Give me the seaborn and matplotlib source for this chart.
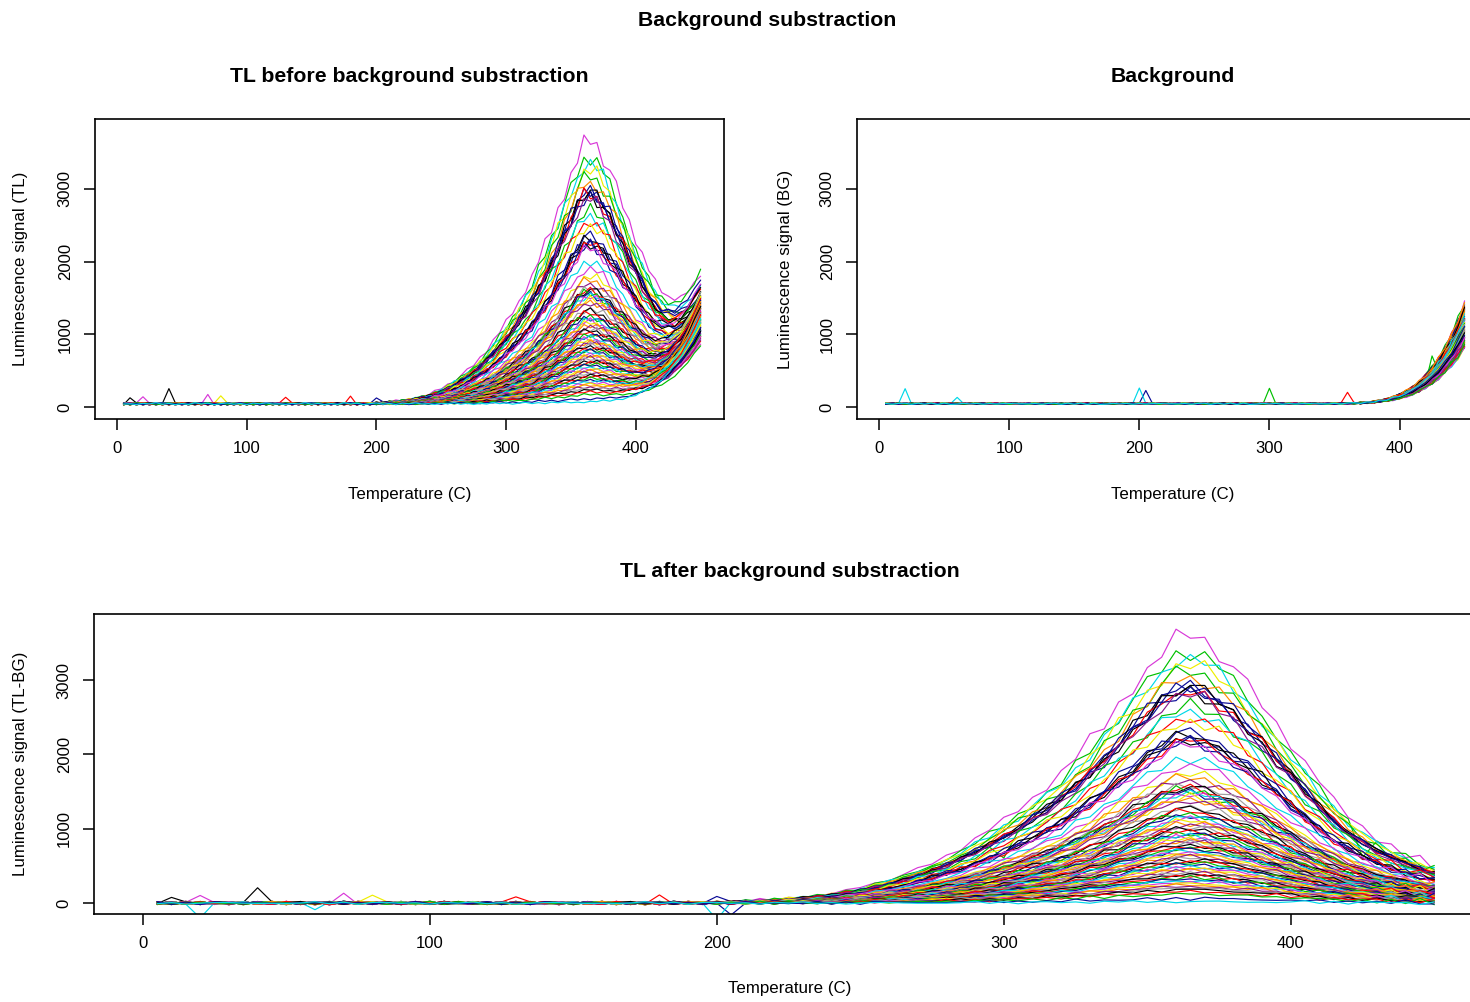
import numpy as np
import pandas as pd
import matplotlib
matplotlib.use("Agg")
import matplotlib.pyplot as plt
import seaborn as sns

# ---------------- data ----------------
temps = list(range(5, 455, 5))  # temperature grid (C)

# normalised TL glow peak (T = 5 ... 450 C, step 5)
peak_shape = [
    0.0, 0.0, 0.0, 0.0, 0.0, 0.0, 0.0, 0.0, 0.0, 0.0,
    0.0, 0.0, 0.0, 0.0, 0.0, 0.0, 0.0, 0.0, 0.0, 0.0,
    0.0, 0.0, 0.0, 0.0, 0.0, 0.0, 0.0, 0.0, 0.0, 0.0,
    0.0, 0.0, 0.0, 0.0, 0.0, 0.0, 0.0, 0.0, 0.0,
    0.003, 0.005, 0.007, 0.010, 0.013, 0.017, 0.022, 0.028, 0.036, 0.046,
    0.058, 0.072, 0.088, 0.106, 0.127, 0.150, 0.176, 0.205, 0.237, 0.272,
    0.310, 0.350, 0.393, 0.438,
    0.485, 0.545, 0.605, 0.670, 0.740, 0.810, 0.875, 0.940, 0.990, 1.000,
    0.975, 0.935, 0.880, 0.815, 0.745, 0.670, 0.595, 0.520, 0.450, 0.385,
    0.330, 0.283, 0.243, 0.210, 0.182, 0.158, 0.138,
]

# background rise above the dark level (counts, T = 5 ... 450 C)
bg_rise = [
    0, 0, 0, 0, 0, 0, 0, 0, 0, 0,
    0, 0, 0, 0, 0, 0, 0, 0, 0, 0,
    0, 0, 0, 0, 0, 0, 0, 0, 0, 0,
    0, 0, 0, 0, 0, 0, 0, 0, 0, 0,
    0, 0, 0, 0, 0, 0, 0, 0, 0, 0,
    0, 0, 0, 0, 0, 0, 0, 0, 0, 0,
    0, 0, 0, 0, 0, 0, 0, 0, 0,
    2, 3, 5, 8, 12, 18, 27, 40, 57, 80,
    110, 148, 195, 255, 330, 420, 525, 650, 800, 970, 1160,
]

baseline_counts = 45

# peak height of each aliquot (TL-BG, counts)
peak_amplitudes = [
    3600, 3380, 3300, 3230, 3130, 3050,
    2950, 2920, 2900, 2880, 2860, 2840, 2800,
    2650, 2580, 2500, 2450,
    2300, 2260, 2230, 2200, 2180, 2150, 2120,
    1950, 1850, 1750, 1700, 1650,
    1600, 1560, 1540, 1520, 1500, 1480, 1450, 1420, 1400, 1380,
    1300, 1270, 1240, 1200, 1180, 1150, 1120, 1100, 1080, 1050, 1020, 1000,
    980, 950, 930, 900, 880, 860, 840, 820, 800, 780, 760, 740,
    720, 700, 680, 660, 640, 620, 600, 580, 560, 540, 520, 500,
    480, 460, 440, 420, 400, 380, 360, 340, 320, 300,
    280, 260, 240, 220, 200, 180, 150, 120, 60, 20,
]

# relative size of each aliquot's background rise
bg_scales = [
    1.10, 0.85, 1.00, 0.70, 1.20, 0.90, 0.95, 0.80, 1.05, 0.75,
    0.88, 1.15, 0.72, 0.98, 0.83, 1.08, 0.65, 0.93, 1.12, 0.78,
    1.02, 0.86, 0.68, 1.18, 0.91, 0.74, 1.06, 0.82, 0.97, 0.70,
    1.14, 0.87, 0.79, 1.01, 0.66, 0.94, 1.09, 0.76, 0.89, 1.16,
    0.73, 0.99, 0.84, 1.04, 0.69, 0.92, 1.11, 0.77, 0.96, 0.81,
    1.07, 0.67, 0.90, 1.13, 0.75, 1.00, 0.85, 0.71, 1.03, 0.88,
    0.80, 1.17, 0.72, 0.95, 1.06, 0.78, 0.87, 1.10, 0.69, 0.93,
    0.83, 1.01, 0.74, 1.15, 0.90, 0.66, 0.98, 1.08, 0.79, 0.86,
    1.12, 0.70, 0.94, 0.82, 1.05, 0.76, 0.91, 1.19, 0.73, 0.97,
    0.84, 1.03, 0.68, 0.89, 1.00,
]

# counting-noise wiggle pattern (relative units)
noise_pattern = [0.2, -0.6, 0.9, -0.3, 0.5, -0.9, 0.1, 0.7, -0.5, 0.3, -0.8, 0.6,
                 -0.1, 0.8, -0.4, 0.0, -0.7, 0.4, -0.2, 1.0, -0.6, 0.3, -0.9]

# isolated spikes: (aliquot index, temperature, extra counts)
tl_spikes = [(7, 40, 220), (23, 20, 100), (25, 70, 120), (16, 80, 110),
             (31, 130, 90), (21, 180, 100), (11, 200, 80), (50, 10, 80)]
bg_spikes = [(2, 20, 200), (14, 200, 220), (8, 205, 190), (13, 300, 210),
             (9, 360, 160), (1, 425, 300), (24, 60, 90)]

x_ticks = [0, 100, 200, 300, 400]
y_ticks = [0, 1000, 2000, 3000]

palette_cycle = ["#000000", "#FF0000", "#00C000", "#0A0A96", "#00D8E8",
                 "#D838D8", "#EEEE00", "#FF8C00", "#8B1A8B", "#A0A0A0"]
# colour index of the brightest aliquots (the rest cycle through the palette)
lead_color_idx = [5, 2, 4, 6, 2, 7, 3, 0, 3, 1, 0, 3, 8, 2, 4, 1, 6, 3, 0, 3, 0, 1, 3, 5]

# ---------------- build long table ----------------
T = np.array(temps, dtype=float)
shape = np.array(peak_shape)
rise = np.array(bg_rise, dtype=float)
npat = len(noise_pattern)
kk = np.arange(len(temps))
frames = []
for i, (amp, sc) in enumerate(zip(peak_amplitudes, bg_scales)):
    ntl = np.array([noise_pattern[(k + 7 * i) % npat] for k in kk]) * (15 + 0.035 * amp * shape)
    nbg = np.array([noise_pattern[(3 * k + 5 * i + 11) % npat] for k in kk]) * (10 + 0.03 * sc * rise)
    bg = baseline_counts + sc * rise + nbg
    tl = baseline_counts + amp * shape + sc * rise + ntl
    for (ci, t, v) in tl_spikes:
        if ci == i:
            tl[temps.index(t)] += v
    for (ci, t, v) in bg_spikes:
        if ci == i:
            bg[temps.index(t)] += v
    frames.append(pd.DataFrame({"curve": f"c{i:03d}", "Temperature": T,
                                "TL": tl, "BG": bg, "NET": tl - bg}))
df = pd.concat(frames, ignore_index=True)
order = [f"c{i:03d}" for i in range(len(peak_amplitudes))]
curve_colors = [palette_cycle[lead_color_idx[i]] if i < len(lead_color_idx)
                else palette_cycle[i % len(palette_cycle)] for i in range(len(order))]

# ---------------- figure ----------------
sns.set_style("white")
plt.rcParams["font.family"] = ["Liberation Sans", "DejaVu Sans"]
plt.rcParams["text.color"] = "black"
plt.rcParams["axes.labelcolor"] = "black"
plt.rcParams["xtick.color"] = "black"
plt.rcParams["ytick.color"] = "black"

W, H = 1470, 1002
fig = plt.figure(figsize=(W / 100, H / 100), dpi=100)

def px_axes(x0, y0, x1, y1):
    return fig.add_axes([x0 / W, 1 - y1 / H, (x1 - x0) / W, (y1 - y0) / H])

ax1 = px_axes(95, 119, 724, 419)
ax2 = px_axes(857, 119, 1488, 419)
ax3 = px_axes(94, 614, 1486, 914)

specs = [
    (ax1, "TL", "TL before background substraction", "Luminescence signal (TL)", (-165, 3960), -0.119),
    (ax2, "BG", "Background", "Luminescence signal (BG)", (-165, 3960), -0.114),
    (ax3, "NET", "TL after background substraction", "Luminescence signal (TL-BG)", (-148, 3890), -0.053),
]

for ax, col, title, ylab, ylim, ylx in specs:
    sns.lineplot(data=df, x="Temperature", y=col, hue="curve", hue_order=order,
                 palette=curve_colors, estimator=None, legend=False,
                 linewidth=0.85, ax=ax)
    ax.set_xlim(-17, 468)
    ax.set_ylim(*ylim)
    ax.set_xticks(x_ticks)
    ax.set_yticks(y_ticks)
    for s in ax.spines.values():
        s.set_visible(True)
        s.set_color("black")
        s.set_linewidth(1.2)
    ax.tick_params(axis="both", direction="out", length=8, width=1.1,
                   labelsize=12, pad=8, colors="black", bottom=True, left=True)
    ax.tick_params(axis="y", labelrotation=90)
    for lab in ax.get_yticklabels():
        lab.set_va("center")
    ax.set_xlabel("Temperature (C)", fontsize=12.2, color="black")
    ax.xaxis.label.set_va("center")
    ax.xaxis.set_label_coords(0.5, -0.25)
    ax.set_ylabel(ylab, fontsize=12.2, color="black")
    ax.yaxis.label.set_va("center")
    ax.yaxis.set_label_coords(ylx, 0.5)
    ax.set_title(title, fontsize=15.3, fontweight="bold", y=1.143, va="center",
                 pad=0, color="black")

fig.text(767 / W, 1 - 20 / H, "Background substraction", ha="center", va="center",
         fontsize=15.3, fontweight="bold", color="black")

fig.savefig("out.png", dpi=100, facecolor="white")
